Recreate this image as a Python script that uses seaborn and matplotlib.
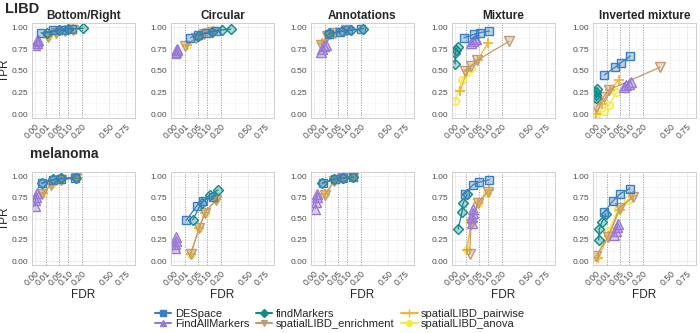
import numpy as np
import pandas as pd
import matplotlib
matplotlib.use("Agg")
import matplotlib.pyplot as plt
from matplotlib.lines import Line2D
import seaborn as sns

sns.set_theme(style="white")
plt.rcParams["font.family"] = ["Liberation Sans", "DejaVu Sans"]

datasets = ["LIBD", "melanoma"]
patterns = ["Bottom/Right", "Circular", "Annotations", "Mixture", "Inverted mixture"]
methods = ["DESpace", "FindAllMarkers", "findMarkers",
           "spatialLIBD_enrichment", "spatialLIBD_pairwise", "spatialLIBD_anova"]
x_ticks = [0, 0.01, 0.05, 0.1, 0.2, 0.5, 0.75]
x_tick_labels = ["0.00", "0.01", "0.05", "0.10", "0.20", "0.50", "0.75"]
y_ticks = [0, 0.25, 0.5, 0.75, 1.0]
y_tick_labels = ["0.00", "0.25", "0.50", "0.75", "1.00"]
fdr_lines = [0.01, 0.05, 0.1, 0.2]

# panels: LIBD x5 patterns, then melanoma x5 patterns; 4 thresholds each
despace_fdr = [[0.003, 0.03, 0.07, 0.12], [0.024, 0.05, 0.09, 0.16], [0.02, 0.06, 0.104, 0.2],
               [0.007, 0.032, 0.058, 0.106], [0.006, 0.032, 0.054, 0.106],
               [0.004, 0.029, 0.06, 0.147], [0.013, 0.046, 0.077, 0.137], [0.007, 0.038, 0.076, 0.138],
               [0.008, 0.029, 0.051, 0.106], [0.006, 0.026, 0.05, 0.102]]
despace_tpr = [[0.935, 0.965, 0.975, 0.985], [0.88, 0.91, 0.94, 0.96], [0.92, 0.95, 0.965, 0.98],
               [0.88, 0.92, 0.94, 0.957], [0.45, 0.54, 0.59, 0.67],
               [0.915, 0.96, 0.97, 0.985], [0.48, 0.65, 0.71, 0.76], [0.915, 0.965, 0.98, 0.99],
               [0.79, 0.90, 0.93, 0.96], [0.58, 0.71, 0.79, 0.855]]

findallmarkers_fdr = [[0.0, 0.0002, 0.0004, 0.0007], [0.0001, 0.0003, 0.0005, 0.0008], [0.004, 0.006, 0.009, 0.012],
                      [0.023, 0.028, 0.034, 0.04], [0.07, 0.08, 0.095, 0.11],
                      [0.0, 0.0, 0.0001, 0.0002], [0.0001, 0.0001, 0.0002, 0.0003], [0.0001, 0.0004, 0.0007, 0.001],
                      [0.025, 0.027, 0.028, 0.03], [0.03, 0.035, 0.04, 0.043]]
findallmarkers_tpr = [[0.80, 0.82, 0.84, 0.85], [0.70, 0.72, 0.74, 0.75], [0.72, 0.75, 0.78, 0.80],
                      [0.82, 0.84, 0.86, 0.87], [0.31, 0.33, 0.35, 0.37],
                      [0.65, 0.72, 0.76, 0.80], [0.15, 0.20, 0.24, 0.28], [0.62, 0.70, 0.75, 0.79],
                      [0.45, 0.52, 0.57, 0.61], [0.31, 0.36, 0.40, 0.44]]

findmarkers_fdr = [[0.012, 0.05, 0.1, 0.21], [0.05, 0.127, 0.21, 0.29], [0.02, 0.07, 0.12, 0.22],
                   [0.0, 0.0, 0.0001, 0.0005], [0.0, 0.0, 0.0, 0.0001],
                   [0.004, 0.03, 0.062, 0.15], [0.031, 0.068, 0.115, 0.175], [0.006, 0.035, 0.075, 0.14],
                   [0.0008, 0.0043, 0.0056, 0.013], [0.0006, 0.0009, 0.003, 0.008]]
findmarkers_tpr = [[0.94, 0.965, 0.98, 0.99], [0.905, 0.95, 0.97, 0.98], [0.93, 0.955, 0.97, 0.985],
                   [0.58, 0.70, 0.74, 0.77], [0.18, 0.22, 0.26, 0.29],
                   [0.92, 0.965, 0.975, 0.985], [0.485, 0.686, 0.78, 0.84], [0.92, 0.965, 0.982, 0.99],
                   [0.38, 0.58, 0.68, 0.79], [0.25, 0.38, 0.46, 0.55]]

enrichment_fdr = [[0.015, 0.04, 0.08, 0.13], [0.011, 0.045, 0.08, 0.13], [0.004, 0.015, 0.04, 0.09],
                  [0.008, 0.022, 0.044, 0.263], [0.0, 0.005, 0.015, 0.368],
                  [0.004, 0.024, 0.06, 0.15], [0.025, 0.057, 0.085, 0.162], [0.011, 0.036, 0.07, 0.138],
                  [0.019, 0.023, 0.047, 0.096], [0.0, 0.013, 0.05, 0.12]]
enrichment_tpr = [[0.89, 0.94, 0.96, 0.975], [0.78, 0.88, 0.92, 0.95], [0.80, 0.90, 0.94, 0.97],
                  [0.50, 0.55, 0.62, 0.84], [0.08, 0.20, 0.28, 0.54],
                  [0.79, 0.90, 0.95, 0.98], [0.085, 0.39, 0.57, 0.725], [0.78, 0.94, 0.975, 0.99],
                  [0.08, 0.44, 0.69, 0.82], [0.06, 0.29, 0.63, 0.75]]

pairwise_fdr = [[0.015, 0.04, 0.08, 0.13], [0.015, 0.05, 0.085, 0.14], [0.006, 0.02, 0.045, 0.1],
                [0.0025, 0.013, 0.047, 0.096], [0.0, 0.003, 0.017, 0.046],
                [0.005, 0.025, 0.06, 0.15], [0.025, 0.057, 0.085, 0.162], [0.011, 0.036, 0.07, 0.138],
                [0.012, 0.023, 0.047, 0.106], [0.0002, 0.015, 0.05, 0.12]]
pairwise_tpr = [[0.90, 0.945, 0.965, 0.98], [0.80, 0.89, 0.93, 0.955], [0.82, 0.91, 0.945, 0.975],
                [0.27, 0.50, 0.62, 0.82], [0.0, 0.12, 0.28, 0.39],
                [0.80, 0.91, 0.955, 0.98], [0.09, 0.39, 0.57, 0.73], [0.79, 0.945, 0.975, 0.99],
                [0.13, 0.45, 0.68, 0.84], [0.04, 0.30, 0.60, 0.77]]

anova_fdr = [[0.015, 0.04, 0.08, 0.13], [0.015, 0.05, 0.085, 0.14], [0.006, 0.02, 0.045, 0.1],
             [0.0, 0.004, 0.013, 0.024], [0.0, 0.005, 0.015, 0.037],
             [0.005, 0.025, 0.06, 0.15], [0.025, 0.057, 0.085, 0.162], [0.011, 0.036, 0.07, 0.138],
             [0.012, 0.025, 0.05, 0.09], [0.0, 0.013, 0.045, 0.09]]
anova_tpr = [[0.90, 0.945, 0.965, 0.98], [0.80, 0.89, 0.93, 0.955], [0.82, 0.91, 0.945, 0.975],
             [0.15, 0.39, 0.49, 0.53], [0.0, 0.03, 0.10, 0.25],
             [0.80, 0.91, 0.955, 0.98], [0.09, 0.39, 0.57, 0.73], [0.79, 0.945, 0.975, 0.99],
             [0.13, 0.47, 0.68, 0.80], [0.05, 0.35, 0.62, 0.72]]

method_data = {
    "DESpace": (despace_fdr, despace_tpr),
    "FindAllMarkers": (findallmarkers_fdr, findallmarkers_tpr),
    "findMarkers": (findmarkers_fdr, findmarkers_tpr),
    "spatialLIBD_enrichment": (enrichment_fdr, enrichment_tpr),
    "spatialLIBD_pairwise": (pairwise_fdr, pairwise_tpr),
    "spatialLIBD_anova": (anova_fdr, anova_tpr),
}

rows = []
for m, (fdrs, tprs) in method_data.items():
    for p_idx in range(10):
        ds = datasets[p_idx // 5]
        pat = patterns[p_idx % 5]
        for t, (f, v) in enumerate(zip(fdrs[p_idx], tprs[p_idx])):
            rows.append(dict(method=m, dataset=ds, pattern=pat, thr=t, FDR=f, TPR=v))
df = pd.DataFrame(rows)

colors = {"DESpace": "#3b7fc2", "FindAllMarkers": "#9a78d6", "findMarkers": "#12898b",
          "spatialLIBD_enrichment": "#c49a72", "spatialLIBD_pairwise": "#f2b630",
          "spatialLIBD_anova": "#f3ea4a"}
markers = {"DESpace": "s", "FindAllMarkers": "^", "findMarkers": "D",
           "spatialLIBD_enrichment": "v", "spatialLIBD_pairwise": "+", "spatialLIBD_anova": "o"}
msizes = {"DESpace": 5.5, "FindAllMarkers": 6.5, "findMarkers": 5,
          "spatialLIBD_enrichment": 6.5, "spatialLIBD_pairwise": 7.5, "spatialLIBD_anova": 5.5}
draw_order = ["spatialLIBD_anova", "spatialLIBD_pairwise", "spatialLIBD_enrichment",
              "FindAllMarkers", "findMarkers", "DESpace"]


def fwd(x):
    return np.sign(x) * np.sqrt(np.abs(x))


def inv(y):
    return np.sign(y) * y ** 2


def face(c, a=0.35):
    rgb = matplotlib.colors.to_rgb(c)
    return (rgb[0], rgb[1], rgb[2], a)


W, H = 700, 333
fig = plt.figure(figsize=(7, 3.33), dpi=100)
lefts = [32, 171, 311, 452, 593]
aw = 103
tops = [23, 172]
heights = [95, 93]

sq = np.sqrt(x_ticks)
minor_x = [inv((sq[i] + sq[i + 1]) / 2) for i in range(len(sq) - 1)] + [inv(sq[-1] + (sq[-1] - sq[-2]) / 2)]

for r, ds in enumerate(datasets):
    for c, pat in enumerate(patterns):
        ax = fig.add_axes([lefts[c] / W, 1 - (tops[r] + heights[r]) / H, aw / W, heights[r] / H])
        ax.set_xscale("function", functions=(fwd, inv))
        ax.set_xlim(-0.03 ** 2, 0.95 ** 2)
        ax.set_ylim(-0.045, 1.05)
        # grids
        for y in y_ticks:
            ax.axhline(y, color="#ebebeb", lw=0.6, zorder=0)
        for y in [0.125, 0.375, 0.625, 0.875]:
            ax.axhline(y, color="#f3f3f3", lw=0.4, zorder=0)
        for x in [0, 0.5, 0.75]:
            ax.axvline(x, color="#ebebeb", lw=0.6, zorder=0)
        for x in minor_x:
            ax.axvline(x, color="#f3f3f3", lw=0.4, zorder=0)
        for x in fdr_lines:
            ax.axvline(x, color="#9a9a9a", lw=0.6, ls=(0, (1.5, 1.5)), zorder=0.5)

        sub = df[(df.dataset == ds) & (df.pattern == pat)]
        for m in draw_order:
            d = sub[sub.method == m]
            col = colors[m]
            sns.lineplot(data=d, x="FDR", y="TPR", ax=ax, color=col, marker=markers[m],
                         markersize=msizes[m], markerfacecolor=face(col) if m != "spatialLIBD_pairwise" else col,
                         markeredgecolor=col, markeredgewidth=1.0 if m != "spatialLIBD_pairwise" else 1.3,
                         linewidth=0.9, sort=False, estimator=None, legend=False)

        ax.set_xticks(x_ticks)
        ax.set_xticklabels(x_tick_labels, rotation=45, ha="right", rotation_mode="anchor",
                           fontsize=6.3, color="#4d4d4d")
        ax.xaxis.set_minor_locator(matplotlib.ticker.NullLocator())
        ax.set_yticks(y_ticks)
        ax.set_yticklabels(y_tick_labels, fontsize=6.1, color="#4d4d4d")
        ax.tick_params(axis="both", length=2, width=0.5, color="#bbbbbb", pad=1.0)
        for s in ax.spines.values():
            s.set_color("#cfcfcf")
            s.set_linewidth(0.7)
        ax.grid(False)
        if c == 0:
            ax.set_ylabel("TPR", fontsize=8.5)
            ax.yaxis.set_label_coords(-0.205, 0.5)
        else:
            ax.set_ylabel("")
        if r == 1:
            ax.set_xlabel("FDR", fontsize=8.5, labelpad=1)
        else:
            ax.set_xlabel("")
        if r == 0:
            ax.set_title(pat, fontsize=8.5, fontweight="bold", pad=3)

fig.text(5 / W, 1 - 9 / H, "LIBD", fontsize=10.5, fontweight="bold", va="center", ha="left")
fig.text(30 / W, 1 - 154 / H, "melanoma", fontsize=10, fontweight="bold", va="center", ha="left")

handles = [Line2D([0], [0], color=colors[m], marker=markers[m], markersize=msizes[m] * 0.75,
                  markerfacecolor=colors[m], markeredgecolor=colors[m], lw=1.5) for m in methods]
fig.legend(handles, methods, ncol=3, loc="center", bbox_to_anchor=(340 / W, 1 - 319 / H),
           frameon=False, fontsize=8, handlelength=1.5, handletextpad=0.3, columnspacing=0.6,
           labelspacing=0.0, borderpad=0)

fig.savefig("out.png", dpi=100, facecolor="white")
